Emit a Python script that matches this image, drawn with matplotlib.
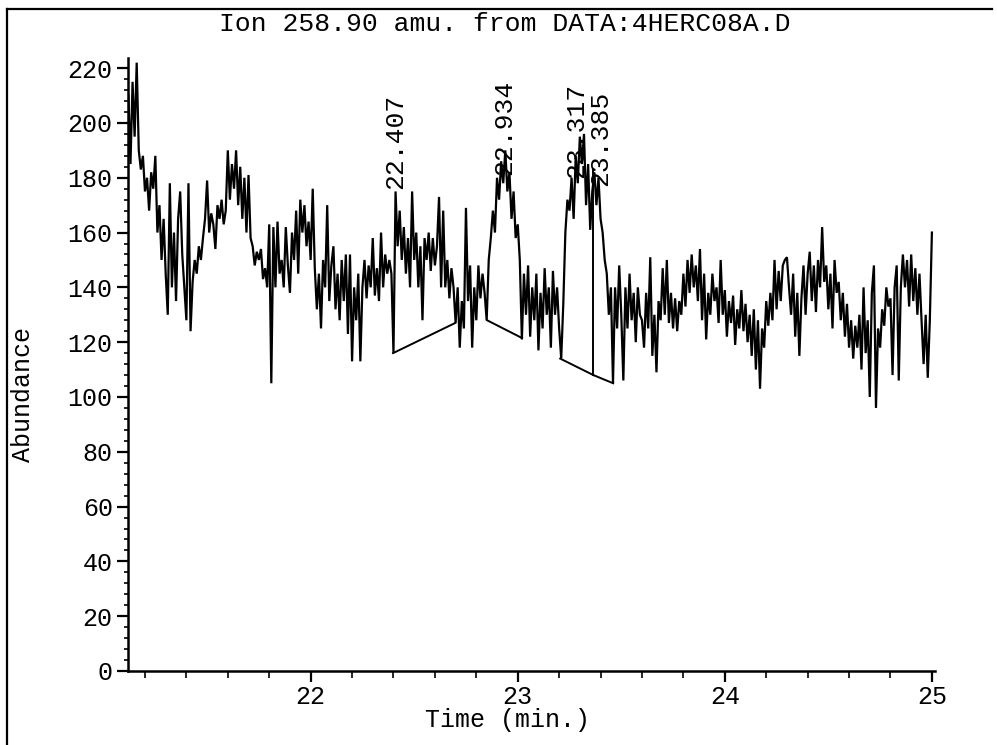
import numpy as np
import matplotlib
matplotlib.use("Agg")
import matplotlib.pyplot as plt
from matplotlib.ticker import MultipleLocator, FixedLocator
from matplotlib.lines import Line2D

# ---------------- data ----------------
title_text = "Ion 258.90 amu. from DATA:4HERC08A.D"
x_label = "Time (min.)"
y_label = "Abundance"

scan_start = 21.12   # min
scan_step = 0.01     # min between scans

abundance = [
    210, 185, 215, 195, 222, 190, 183, 188, 175, 180,
    168, 182, 176, 188, 160, 170, 150, 165, 145, 130,
    178, 140, 160, 135, 165, 175, 152, 140, 128, 178,
    124, 142, 150, 145, 155, 150, 158, 165, 179, 160,
    167, 163, 154, 170, 165, 172, 163, 168, 190, 172,
    185, 176, 190, 170, 184, 165, 180, 160, 181, 158,
    155, 148, 153, 150, 154, 143, 147, 140, 163, 105,
    162, 140, 164, 145, 150, 140, 162, 148, 138, 160,
    150, 168, 145, 172, 160, 170, 155, 164, 150, 176,
    147, 132, 145, 125, 150, 140, 170, 135, 148, 155,
    132, 145, 128, 150, 135, 152, 123, 152, 113, 140,
    128, 145, 113, 140, 150, 136, 148, 140, 158, 137,
    147, 135, 160, 140, 152, 145, 150, 145, 116, 175,
    155, 168, 150, 162, 145, 158, 140, 175, 150, 160,
    140, 155, 128, 158, 150, 160, 146, 158, 148, 155,
    173, 140, 168, 140, 150, 136, 147, 140, 127, 140,
    118, 135, 125, 169, 135, 148, 118, 140, 128, 148,
    136, 145, 138, 128, 150, 158, 168, 160, 180, 172,
    186, 178, 190, 175, 182, 165, 175, 158, 163, 150,
    121, 145, 130, 148, 122, 140, 128, 145, 117, 138,
    125, 147, 130, 140, 118, 146, 130, 140, 125, 114,
    134, 160, 172, 168, 180, 165, 188, 178, 195, 185,
    196, 170, 185, 161, 175, 182, 170, 180, 165, 160,
    150, 145, 130, 140, 105, 140, 125, 148, 130, 106,
    140, 125, 145, 128, 138, 120, 140, 130, 128, 118,
    138, 125, 151, 115, 130, 109, 135, 128, 147, 130,
    150, 127, 138, 125, 136, 124, 135, 130, 145, 133,
    150, 138, 152, 140, 148, 135, 154, 128, 145, 121,
    138, 130, 145, 135, 140, 127, 150, 130, 139, 122,
    135, 127, 137, 119, 132, 125, 139, 124, 134, 120,
    130, 115, 132, 110, 128, 103, 125, 118, 135, 126,
    138, 128, 150, 132, 146, 135, 148, 150, 151, 140,
    130, 145, 122, 138, 115, 136, 148, 130, 145, 153,
    135, 148, 131, 150, 140, 162, 142, 148, 132, 145,
    125, 150, 138, 142, 128, 138, 122, 134, 118, 128,
    114, 126, 118, 130, 110, 140, 116, 128, 100, 138,
    148, 96, 125, 118, 132, 126, 140, 133, 136, 108,
    140, 148, 106, 140, 152, 140, 150, 133, 152, 135,
    147, 130, 145, 128, 112, 130, 107, 128, 160,
]

x_major_ticks = [22, 23, 24, 25]
x_tick_labels = ["22", "23", "24", "25"]
y_major_ticks = [0, 20, 40, 60, 80, 100, 120, 140, 160, 180, 200, 220]
y_tick_labels = ["0", "20", "40", "60", "80", "100", "120", "140", "160",
                 "180", "200", "220"]

# peak retention-time labels
peak_times = [22.407, 22.934, 23.317, 23.385]
peak_label_base = [176, 181, 180, 177]
peak_labels = ["22.407", "22.934", "23.317", "23.385"]

# integration baselines (start time, start abundance, end time, end abundance)
baseline_t0 = [22.398, 22.852, 23.205, 23.365]
baseline_v0 = [116, 128, 114, 108]
baseline_t1 = [22.698, 23.021, 23.365, 23.461]
baseline_v1 = [127, 121.5, 108, 105]
# drop line between the two fused peaks
drop_time = 23.365
drop_low = 108
drop_high = 183

# ---------------- plotting ----------------
FONT = ["Liberation Mono", "DejaVu Sans Mono"]
FS = 18
FS_BIG = 19

W, H = 997, 745
fig = plt.figure(figsize=(W / 100, H / 100), dpi=100)
fig.patch.set_facecolor("white")

ax_left, ax_right, ax_top, ax_bottom = 128, 935, 58, 671
ax = fig.add_axes([ax_left / W, 1 - ax_bottom / H,
                   (ax_right - ax_left) / W, (ax_bottom - ax_top) / H])

LW = 1.6
times = scan_start + scan_step * np.arange(len(abundance))
ax.plot(times, abundance, color="black", lw=LW, solid_joinstyle="miter")

for t0, v0, t1, v1 in zip(baseline_t0, baseline_v0, baseline_t1, baseline_v1):
    ax.plot([t0, t1], [v0, v1], color="black", lw=1.4)
ax.plot([drop_time, drop_time], [drop_low, drop_high], color="black", lw=1.4)

# small horizontal nudges (pixels) so adjacent labels sit side by side
label_dx = [0, 0, -7, 3]
for t, v, lab, dx in zip(peak_times, peak_label_base, peak_labels, label_dx):
    ax.annotate(lab, xy=(t, v), xytext=(dx, 0), textcoords="offset pixels",
                rotation=90, ha="center", va="bottom",
                family=FONT, fontsize=FS_BIG, color="black")

ax.set_xlim(21.118, 25.015)
ax.set_ylim(0, 223.7)

for s in ("top", "right"):
    ax.spines[s].set_visible(False)
for s in ("left", "bottom"):
    ax.spines[s].set_linewidth(1.8)
    ax.spines[s].set_color("black")

ax.xaxis.set_major_locator(FixedLocator(x_major_ticks))
ax.set_xticklabels(x_tick_labels)
ax.xaxis.set_minor_locator(MultipleLocator(0.2))
ax.yaxis.set_major_locator(FixedLocator(y_major_ticks))
ax.set_yticklabels(y_tick_labels)
ax.yaxis.set_minor_locator(MultipleLocator(4))

ax.tick_params(axis="x", which="major", direction="out", length=8, width=1.6,
               pad=2, labelsize=FS)
ax.tick_params(axis="x", which="minor", direction="out", length=5, width=1.2)
ax.tick_params(axis="y", which="major", direction="out", length=8, width=1.6,
               pad=3, labelsize=FS)
ax.tick_params(axis="y", which="minor", direction="out", length=3, width=1.2)
for lab in ax.get_xticklabels() + ax.get_yticklabels():
    lab.set_family(FONT)

fig.text(505 / W, 1 - 24 / H, title_text, ha="center", va="center",
         family=FONT, fontsize=FS_BIG, color="black")
fig.text(507 / W, 1 - 720 / H, x_label, ha="center", va="center",
         family=FONT, fontsize=FS, color="black")
fig.text(23 / W, 1 - 394 / H, y_label, ha="center", va="center",
         rotation=90, family=FONT, fontsize=FS, color="black")

# outer frame of the printout
fig.add_artist(Line2D([7 / W, 7 / W], [0, 1 - 9 / H],
                      transform=fig.transFigure, color="black", lw=1.6))
fig.add_artist(Line2D([7 / W, 992 / W], [1 - 9 / H, 1 - 9 / H],
                      transform=fig.transFigure, color="black", lw=1.6))

fig.savefig("out.png", dpi=100, facecolor="white")
